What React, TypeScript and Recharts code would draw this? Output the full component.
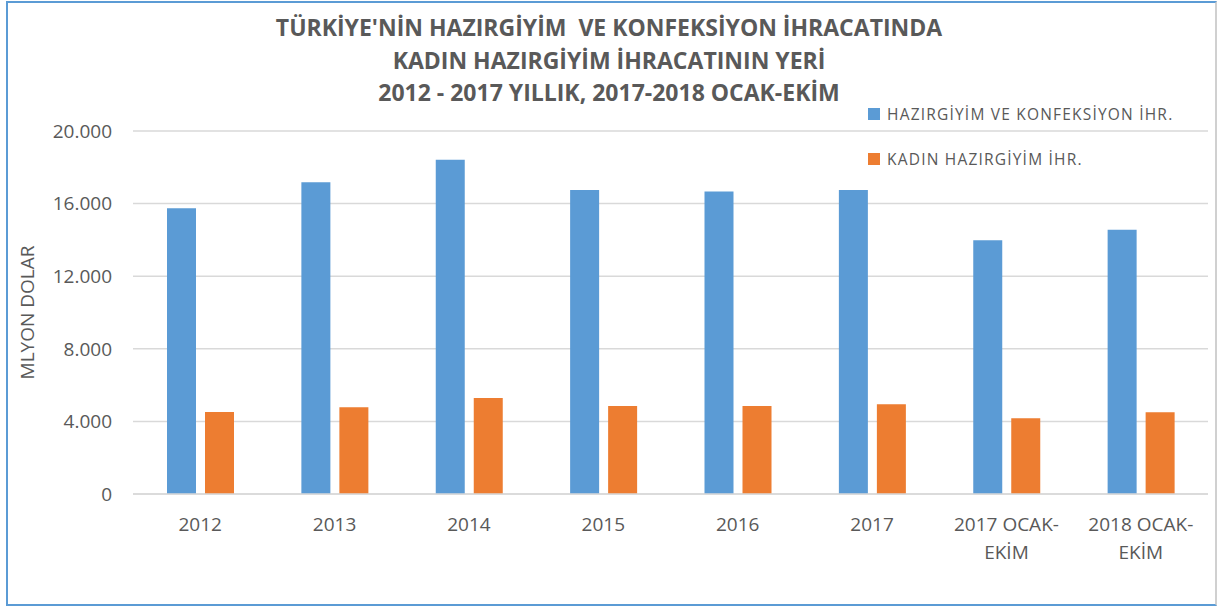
import { Bar, BarChart, CartesianGrid, Legend, XAxis, YAxis } from 'recharts';

const categories = ['2012', '2013', '2014', '2015', '2016', '2017', '2017 OCAK-EKİM', '2018 OCAK-EKİM'];
const totalExports = [15740, 17170, 18420, 16750, 16660, 16750, 13980, 14560];
const womenExports = [4520, 4780, 5290, 4850, 4850, 4940, 4170, 4500];
const yTicks = [0, 4000, 8000, 12000, 16000, 20000];
const titleLines = [
  "TÜRKİYE'NİN HAZIRGİYİM  VE KONFEKSİYON İHRACATINDA",
  'KADIN HAZIRGİYİM İHRACATININ YERİ',
  '2012 - 2017 YILLIK, 2017-2018 OCAK-EKİM',
];
const seriesNames = ['HAZIRGİYİM VE KONFEKSİYON İHR.', 'KADIN HAZIRGİYİM İHR.'];

const data = categories.map((c, i) => ({
  name: c,
  total: totalExports[i],
  women: womenExports[i],
}));

const FONT = '"Open Sans", sans-serif';
const GRAY = '#595959';

const fmt = (v: number) => String(v).replace(/\B(?=(\d{3})+(?!\d))/g, '.');

function XTick(props: any) {
  const { x, y, payload } = props;
  const v: string = payload.value;
  const idx = v.indexOf('OCAK-');
  const lines = idx >= 0 ? [v.slice(0, idx + 5), v.slice(idx + 5)] : [v];
  return (
    <g transform={`translate(${x},${y})`}>
      {lines.map((l, i) => (
        <text key={i} x={0} y={29 + i * 28} textAnchor="middle" fill={GRAY} fontSize={19} fontFamily={FONT}>
          {l}
        </text>
      ))}
    </g>
  );
}

function LegendBox(props: any) {
  const { payload } = props;
  return (
    <div>
      {payload.map((p: any, i: number) => (
        <div key={i} style={{ display: 'flex', alignItems: 'center', height: 45 }}>
          <div style={{ width: 12, height: 12, background: p.color, marginRight: 7 }} />
          <span style={{ color: GRAY, fontSize: 15.5, fontFamily: FONT, letterSpacing: 1.2 }}>{p.value}</span>
        </div>
      ))}
    </div>
  );
}

export default function App() {
  return (
    <div style={{ position: 'absolute', left: 0, top: 0, width: 1218, height: 608, background: '#fff' }}>
      <div
        style={{
          position: 'absolute',
          left: 6,
          top: 1,
          width: 1211,
          height: 605,
          boxSizing: 'border-box',
          borderLeft: '2px solid #5B9BD5',
          borderTop: '2px solid #5B9BD5',
          borderBottom: '2px solid #5B9BD5',
          borderRight: '2px solid #d0d0d0',
        }}
      />
      <div style={{ position: 'absolute', left: 0, top: 11, width: 1218, textAlign: 'center' }}>
        {titleLines.map((t, i) => (
          <div
            key={i}
            style={{ fontFamily: FONT, fontWeight: 700, fontSize: 23, color: GRAY, lineHeight: '32.5px', whiteSpace: 'pre' }}
          >
            {t}
          </div>
        ))}
      </div>
      <div style={{ position: 'absolute', left: 0, top: 0 }}>
        <BarChart width={1218} height={608} data={data} margin={{ top: 131, right: 10, left: 0, bottom: 84 }} barGap={9}>
          <CartesianGrid vertical={false} stroke="#d9d9d9" strokeWidth={1.5} />
          <XAxis
            dataKey="name"
            height={30}
            axisLine={{ stroke: '#d9d9d9', strokeWidth: 1.5 }}
            tickLine={false}
            tick={<XTick />}
            interval={0}
          />
          <YAxis
            width={133}
            domain={[0, 20000]}
            ticks={yTicks}
            axisLine={false}
            tickLine={false}
            tickSize={0}
            tickMargin={21}
            tickFormatter={fmt}
            tick={{ fill: GRAY, fontSize: 19, fontFamily: FONT }}
            label={{
              value: 'MLYON DOLAR',
              angle: -90,
              position: 'insideLeft',
              offset: 27,
              style: { textAnchor: 'middle', fill: GRAY, fontSize: 19, fontFamily: FONT },
            }}
          />
          <Legend
            layout="vertical"
            verticalAlign="middle"
            align="center"
            content={<LegendBox />}
            wrapperStyle={{ position: 'absolute', left: 868, top: 91, width: 340 }}
          />
          <Bar dataKey="total" name={seriesNames[0]} fill="#5B9BD5" barSize={29} isAnimationActive={false} />
          <Bar dataKey="women" name={seriesNames[1]} fill="#ED7D31" barSize={29} isAnimationActive={false} />
        </BarChart>
      </div>
    </div>
  );
}
